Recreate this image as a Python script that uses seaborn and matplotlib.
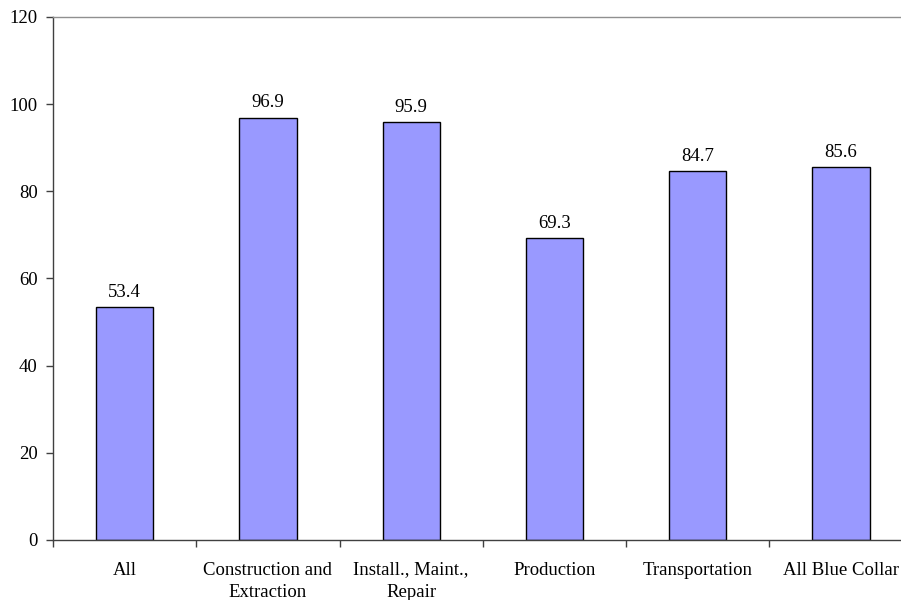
import matplotlib
matplotlib.use("Agg")
import matplotlib.pyplot as plt
import seaborn as sns
import pandas as pd
import numpy as np

categories = ["All", "Construction and\nExtraction", "Install., Maint.,\nRepair",
              "Production", "Transportation", "All Blue Collar"]
values = [53.4, 96.9, 95.9, 69.3, 84.7, 85.6]
y_ticks = [0, 20, 40, 60, 80, 100, 120]

sns.set_theme(style="white")
plt.rcParams["font.family"] = ["Liberation Serif", "DejaVu Serif"]

df = pd.DataFrame({"category": categories, "value": values})

fig = plt.figure(figsize=(9.01, 6.0), dpi=100)
ax = fig.add_axes([0.0588, 0.10, 0.9541, 0.8717])

sns.barplot(data=df, x="category", y="value", color="#9999FF", saturation=1,
            width=0.4, edgecolor="black", linewidth=1, ax=ax)

ax.set_xlim(-0.5, len(categories) - 0.5)
ax.set_ylim(0, 120)
ax.set_yticks(y_ticks)
ax.set_xlabel("")
ax.set_ylabel("")

fs = 13.5
for i, v in enumerate(values):
    ax.annotate(f"{v:.1f}", (i, v), xytext=(0, 4.5), textcoords="offset points",
                ha="center", va="bottom", fontsize=fs, color="black")

for lab in ax.get_xticklabels():
    lab.set_linespacing(1.45)

# category boundary ticks on the x axis
ax.set_xticks(np.arange(-0.5, len(categories) + 0.5, 1), minor=True)
ax.tick_params(axis="x", which="major", length=0, pad=15.5, labelsize=fs, colors="black")
ax.tick_params(axis="x", which="minor", length=5, width=1, color="#404040", direction="out", bottom=True)
ax.tick_params(axis="y", which="major", length=5, width=1, color="#404040", direction="out",
               left=True, labelsize=fs, labelcolor="black", pad=6)

for side in ["left", "bottom"]:
    ax.spines[side].set_color("#404040")
    ax.spines[side].set_linewidth(1)
ax.spines["right"].set_visible(False)
ax.spines["top"].set_color("#909090")
ax.spines["top"].set_linewidth(1)

fig.savefig("out.png", dpi=100)
